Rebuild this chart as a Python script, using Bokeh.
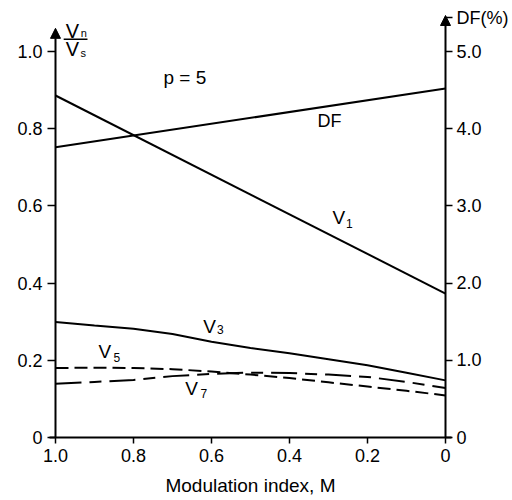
from bokeh.plotting import figure
from bokeh.models import Range1d, LinearAxis, FixedTicker, Label, Arrow, NormalHead
from bokeh.embed import file_html
from bokeh.resources import INLINE

# ---- data ----
M = [1.0, 0.9, 0.8, 0.7, 0.6, 0.5, 0.4, 0.3, 0.2, 0.1, 0.0]
V3 = [0.299, 0.290, 0.282, 0.268, 0.248, 0.232, 0.218, 0.203, 0.187, 0.168, 0.148]
V5 = [0.180, 0.181, 0.180, 0.177, 0.171, 0.163, 0.154, 0.143, 0.132, 0.121, 0.109]
V7 = [0.139, 0.144, 0.149, 0.159, 0.165, 0.168, 0.167, 0.163, 0.157, 0.144, 0.128]
M_ends = [1.0, 0.0]
V1_ends = [0.886, 0.373]
DF_ends = [3.76, 4.52]   # percent, right axis

x_ticks = [1.0, 0.8, 0.6, 0.4, 0.2, 0.0]
x_tick_labels = ["1.0", "0.8", "0.6", "0.4", "0.2", "0"]
y_ticks = [0.0, 0.2, 0.4, 0.6, 0.8, 1.0]
y_tick_labels = ["0", "0.2", "0.4", "0.6", "0.8", "1.0"]
DF_TITLE_POS = 5.434
df_ticks = [0, 1, 2, 3, 4, 5, DF_TITLE_POS]
df_tick_labels = ["0", "1.0", "2.0", "3.0", "4.0", "5.0", "DF(%)"]

FONT = "Liberation Sans"
Y_TOP = 1.1114
X_PAD = 0.01538

p = figure(width=512, height=500, output_backend="svg", toolbar_location=None,
           x_range=Range1d(1.0 + X_PAD, 0.0 - X_PAD), y_range=Range1d(0.0, Y_TOP),
           min_border_left=49, min_border_right=61, min_border_top=8, min_border_bottom=63)
p.extra_y_ranges = {"df": Range1d(0.0, Y_TOP * 5)}
p.grid.visible = False
p.outline_line_color = None
p.background_fill_color = "white"
p.border_fill_color = "white"

# axes
xa = p.xaxis[0]
xa.ticker = FixedTicker(ticks=x_ticks)
xa.major_label_overrides = dict(zip(x_ticks, x_tick_labels))
xa.axis_line_width = 2
xa.axis_line_color = "black"
xa.major_tick_out = 6
xa.major_tick_in = 0
xa.major_tick_line_width = 1.5
xa.minor_tick_line_color = None
xa.major_label_standoff = 5
xa.major_label_text_font = FONT
xa.major_label_text_font_size = "18px"
xa.major_label_text_color = "black"
xa.axis_label = "Modulation index, M"
xa.axis_label_text_font = FONT
xa.axis_label_text_font_size = "19px"
xa.axis_label_text_font_style = "normal"
xa.axis_label_text_color = "black"
xa.axis_label_standoff = 10

ya = p.yaxis[0]
ya.ticker = FixedTicker(ticks=y_ticks)
ya.major_label_overrides = dict(zip(y_ticks, y_tick_labels))
ya.axis_line_color = None
ya.major_tick_out = 2
ya.major_tick_in = 6
ya.major_tick_line_width = 1.5
ya.minor_tick_line_color = None
ya.major_label_standoff = 5
ya.major_label_text_font = FONT
ya.major_label_text_font_size = "18px"
ya.major_label_text_color = "black"

ra = LinearAxis(y_range_name="df", ticker=FixedTicker(ticks=df_ticks))
ra.major_label_overrides = dict(zip(df_ticks, df_tick_labels))
ra.axis_line_color = None
ra.major_tick_out = 1
ra.major_tick_in = 6
ra.major_tick_line_width = 1.5
ra.minor_tick_line_color = None
ra.major_label_standoff = 4
ra.major_label_text_font = FONT
ra.major_label_text_font_size = "18px"
ra.major_label_text_color = "black"
p.add_layout(ra, "right")

# axis arrows
p.add_layout(Arrow(end=NormalHead(size=10, fill_color="black", line_color="black"),
                   x_start=1.0, y_start=0.0, x_end=1.0, y_end=1.06,
                   line_width=2, line_color="black"))
p.add_layout(Arrow(end=NormalHead(size=10, fill_color="black", line_color="black"),
                   x_start=0.0, y_start=0.0, x_end=0.0, y_end=1.0933,
                   line_width=2, line_color="black"))

# curves
p.line(M_ends, V1_ends, line_width=2, line_color="black")
p.line(M_ends, DF_ends, y_range_name="df", line_width=2, line_color="black")
p.line(M, V3, line_width=2, line_color="black")
p.line(M, V5, line_width=2, line_color="black", line_dash="13 6")
p.line(M, V7, line_width=2, line_color="black", line_dash="26 8 12 8")


def lab(x, y, t, size_px, align="left"):
    # small upward correction for how the renderer places the alphabetic baseline
    y_adj = y + 0.34 * size_px / 386.0
    p.add_layout(Label(x=x, y=y_adj, text=t, text_font=FONT, text_font_size=f"{size_px}px",
                       text_color="black", text_align=align,
                       text_baseline="alphabetic"))


lab(0.723, 0.916, "p = 5", 19)
lab(0.328, 0.803, "DF", 18)
lab(0.290, 0.552, "V", 19); lab(0.255, 0.544, "1", 12)
lab(0.621, 0.272, "V", 19); lab(0.586, 0.269, "3", 12)
lab(0.890, 0.205, "V", 19); lab(0.851, 0.197, "5", 12)
lab(0.667, 0.109, "V", 19); lab(0.628, 0.104, "7", 12)
# left axis title V_n / V_s
lab(0.974, 1.036, "V", 20); lab(0.935, 1.0376, "n", 11)
lab(0.974, 0.990, "V", 20); lab(0.936, 0.987, "s", 11)
p.line([0.979, 0.918], [1.032, 1.032], line_width=1.5, line_color="black")

open("out.html", "w").write(file_html(p, INLINE))
